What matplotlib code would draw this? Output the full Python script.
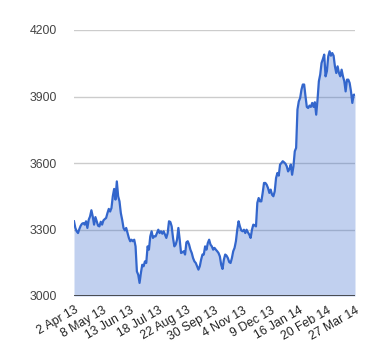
import matplotlib
matplotlib.use("Agg")
import matplotlib.pyplot as plt
import numpy as np

plt.rcParams['font.family'] = ['Liberation Sans', 'DejaVu Sans']

values = [
    3337, 3307, 3292, 3284, 3302, 3317, 3326, 3329, 3322, 3337,
    3307, 3344, 3359, 3387, 3359, 3322, 3356, 3337, 3317, 3314,
    3335, 3322, 3341, 3347, 3352, 3374, 3393, 3381, 3397, 3450,
    3483, 3435, 3517, 3450, 3427, 3374, 3344, 3307, 3296, 3307,
    3284, 3262, 3247, 3254, 3247, 3254, 3224, 3111, 3096, 3059,
    3104, 3141, 3134, 3156, 3149, 3224, 3209, 3269, 3292, 3262,
    3269, 3269, 3284, 3299, 3284, 3292, 3281, 3292, 3277, 3262,
    3284, 3337, 3334, 3314, 3262, 3224, 3232, 3254, 3307, 3254,
    3194, 3197, 3202, 3187, 3242, 3247, 3232, 3209, 3194, 3171,
    3156, 3149, 3134, 3119, 3134, 3164, 3187, 3187, 3224, 3209,
    3239, 3254, 3232, 3224, 3209, 3217, 3209, 3202, 3194, 3179,
    3141, 3122, 3164, 3187, 3182, 3171, 3153, 3149, 3171, 3202,
    3217, 3247, 3299, 3337, 3314, 3296, 3292, 3299, 3284, 3299,
    3287, 3277, 3262, 3299, 3322, 3319, 3314, 3420, 3442, 3427,
    3427, 3465, 3510, 3510, 3502, 3487, 3465, 3480, 3457, 3450,
    3472, 3532, 3555, 3543, 3593, 3600, 3608, 3603, 3597, 3585,
    3562, 3573, 3593, 3547, 3585, 3653, 3668, 3841, 3878, 3893,
    3931, 3954, 3954, 3901, 3853, 3848, 3859, 3853, 3871, 3853,
    3874, 3818, 3886, 3969, 3999, 4051, 4069, 4089, 3991, 4014,
    4081, 4104, 4084, 4096, 4084, 4036, 4006, 4036, 4006, 3991,
    4021, 3991, 3969, 3923, 3976, 3976, 3961, 3923, 3871, 3908,
    3908,
]

x_labels = ["2 Apr 13", "8 May 13", "13 Jun 13", "18 Jul 13", "22 Aug 13",
            "30 Sep 13", "4 Nov 13", "9 Dec 13", "16 Jan 14", "20 Feb 14",
            "27 Mar 14"]
y_ticks = [3000, 3300, 3600, 3900, 4200]

n = len(values)
x = np.arange(n)

fig = plt.figure(figsize=(3.8, 3.6), dpi=100)
ax = fig.add_axes([74/380, 1 - 296/360, (355-74)/380, (296-30)/360])

line_color = "#3366CC"
ax.fill_between(x, y_ticks[0], values, color=line_color, alpha=0.3, linewidth=0, zorder=2)
ax.plot(x, values, color=line_color, linewidth=1.6, zorder=3, solid_joinstyle='round')

ax.set_xlim(0, n - 1)
ax.set_ylim(y_ticks[0], y_ticks[-1])

for yv in y_ticks[1:]:
    ax.axhline(yv, color="#cccccc", linewidth=1.0, zorder=1)
ax.axhline(y_ticks[0], color="#333333", linewidth=1.2, zorder=4)

ax.set_yticks(y_ticks)
ax.set_yticklabels([str(v) for v in y_ticks], fontsize=8.8, color="#444444")
tick_pos = [i * (n - 1) / (len(x_labels) - 1) for i in range(len(x_labels))]
ax.set_xticks(tick_pos)
ax.set_xticklabels(x_labels, fontsize=8.8, color="#222222", rotation=30,
                   ha='right', va='top', rotation_mode='anchor')
ax.tick_params(axis='both', length=0)
ax.tick_params(axis='y', pad=12)
ax.tick_params(axis='x', pad=6)
for s in ax.spines.values():
    s.set_visible(False)

fig.savefig("out.png", dpi=100, facecolor="white")
